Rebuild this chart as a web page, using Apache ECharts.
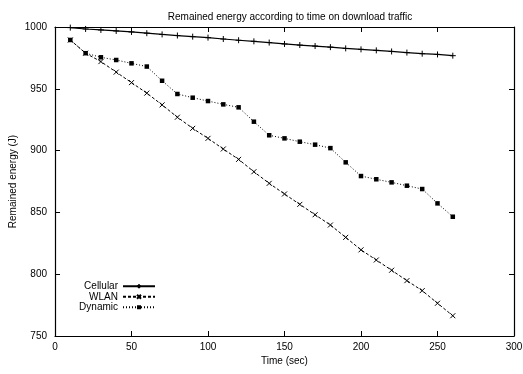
<!DOCTYPE html>
<html>
<head>
<meta charset="utf-8">
<script src="https://cdn.jsdelivr.net/npm/echarts@6/dist/echarts.min.js"></script>
<style>html,body{margin:0;padding:0;background:#fff}#c{width:523px;height:374px}</style>
</head>
<body>
<div id="c"></div>
<script>
const times = [10,20,30,40,50,60,70,80,90,100,110,120,130,140,150,160,170,180,190,200,210,220,230,240,250,260];
const cellular = [999.5,998.4,997.6,996.8,996.0,995.0,994.0,993.1,992.2,991.4,990.3,989.3,988.4,987.4,986.3,985.4,984.6,983.7,982.7,981.9,981.1,980.2,979.3,978.4,977.8,976.8];
const wlan = [989.5,978.8,972.0,963.5,955.0,946.5,937.0,927.0,918.0,909.9,901.3,892.9,882.9,873.5,864.9,856.5,848.1,839.8,829.8,819.7,811.5,803.2,794.8,786.7,776.5,766.4];
const dynamic = [989.5,978.8,975.5,973.3,970.6,968.0,956.5,945.8,942.8,940.1,937.4,935.0,923.4,912.4,909.9,907.2,904.8,902.0,890.5,879.4,876.8,874.3,871.6,868.9,857.3,846.5];
const seriesNames = ['Cellular','WLAN','Dynamic'];
const chartTitle = 'Remained energy according to time on download traffic';
const xName = 'Time (sec)';
const yName = 'Remained energy (J)';

const pair = (ys) => times.map((t,i)=>[t, ys[i]]);
const font = 'Liberation Sans, Arial, Helvetica, sans-serif';
const chart = echarts.init(document.getElementById('c'), null, {renderer:'canvas'});
const tickCommon = {show:true, inside:true, length:5, lineStyle:{color:'#000', width:1}};
const baseX = {type:'value', min:0, max:300, interval:50, splitLine:{show:false},
  axisLine:{show:true, onZero:false, lineStyle:{color:'#000', width:1.2}}};
const baseY = {type:'value', min:750, max:1000, interval:50, splitLine:{show:false},
  axisLine:{show:true, onZero:false, lineStyle:{color:'#000', width:1.2}}};
const plusPath = 'path://M0,5L10,5M5,0L5,10';
const crossPath = 'path://M0,0L10,10M10,0L0,10';
chart.setOption({
  animation:false,
  backgroundColor:'#fff',
  textStyle:{fontFamily:font},
  title:{text:chartTitle, left:285, textAlign:'center', top:7,
    textStyle:{fontSize:10, fontWeight:'normal', color:'#000', fontFamily:font}},
  grid:{left:55, right:9, top:27, bottom:38, containLabel:false, outerBoundsMode:'none'},
  legend:{orient:'vertical', left:74, top:281, padding:0, itemGap:0, itemWidth:32, itemHeight:5,
    align:'right', data:seriesNames,
    textStyle:{fontSize:10, lineHeight:10.5, height:10.5, color:'#000', fontFamily:font, width:44, align:'right', padding:[0,0,0,0]}},
  xAxis:[
    Object.assign({}, baseX, {position:'bottom', name:xName, nameLocation:'middle', nameGap:20,
      nameMoveOverlap:false,
      nameTextStyle:{fontSize:10, color:'#000', fontFamily:font},
      axisTick:tickCommon, axisLabel:{fontSize:10, color:'#000', margin:6, fontFamily:font}}),
    Object.assign({}, baseX, {position:'top', axisTick:tickCommon, axisLabel:{show:false}})
  ],
  yAxis:[
    Object.assign({}, baseY, {position:'left', name:yName, nameLocation:'middle', nameGap:37,
      nameMoveOverlap:false,
      nameTextStyle:{fontSize:10, color:'#000', fontFamily:font},
      axisTick:tickCommon, axisLabel:{fontSize:10, color:'#000', margin:8, fontFamily:font,
        formatter:(v)=>String(v)}}),
    Object.assign({}, baseY, {position:'right', axisTick:tickCommon, axisLabel:{show:false}})
  ],
  series:[
    {name:seriesNames[0], type:'line', data:pair(cellular), symbol:plusPath, symbolSize:6,
      showAllSymbol:true,
      lineStyle:{color:'#000', width:1.2, type:'solid'},
      itemStyle:{color:'#000', borderColor:'#000', borderWidth:1}},
    {name:seriesNames[1], type:'line', data:pair(wlan), symbol:crossPath, symbolSize:5,
      showAllSymbol:true,
      lineStyle:{color:'#000', width:1, type:[3,2]},
      itemStyle:{color:'#000', borderColor:'#000', borderWidth:1}},
    {name:seriesNames[2], type:'line', data:pair(dynamic), symbol:'rect', symbolSize:4.5,
      showAllSymbol:true,
      lineStyle:{color:'#000', width:1, type:[1,2]},
      itemStyle:{color:'#000', borderColor:'#000', borderWidth:0}}
  ]
});
</script>
</body>
</html>
